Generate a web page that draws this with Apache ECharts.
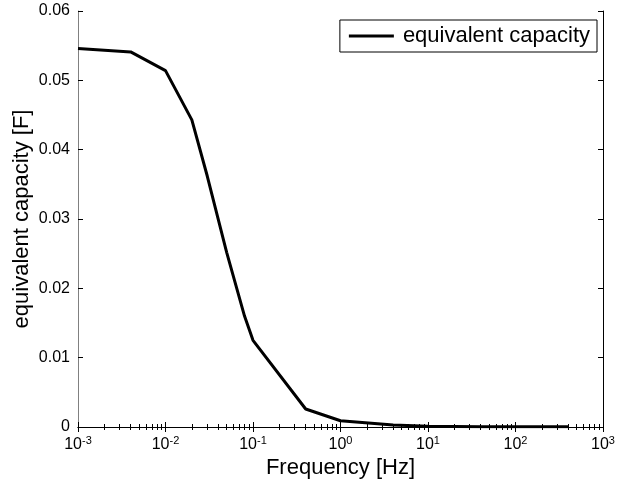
<!DOCTYPE html>
<html lang="en">
  <head>
    <meta charset="utf-8">
    <title>equivalent capacity</title>
    <script src="https://cdn.jsdelivr.net/npm/echarts@6/dist/echarts.min.js"></script>
  </head>
  <body style="margin:0;background:#fff">
    <div id="main" style="width:629px;height:484px;"></div>

    <script>
    // frequency [Hz] and equivalent capacity [F]
    var freq = [0.001, 0.004, 0.01, 0.02, 0.03, 0.05, 0.08, 0.1, 0.4, 1, 4, 10, 40, 100, 400];
    var capacity = [0.0546, 0.0541, 0.0514, 0.0443, 0.0362, 0.0252, 0.016, 0.0125, 0.0026, 0.0009, 0.0003, 0.0001, 0.00005, 0.00003, 0.00002];

    var xMin = 0.001, xMax = 1000;
    var yMin = 0, yMax = 0.06, yStep = 0.01;

    var font = 'Liberation Sans, Arial, Helvetica, sans-serif';

    var myChart = echarts.init(document.getElementById('main'));

    var pts = freq.map((f, i) => [f, capacity[i]]);

    var logAxis = {
      type: 'log',
      logBase: 10,
      min: xMin,
      max: xMax,
      axisLine: { lineStyle: { color: '#000', width: 1 } },
      axisTick: { inside: true, length: 5, lineStyle: { color: '#000' } },
      minorTick: { show: true, splitNumber: 9, length: 3, lineStyle: { color: '#000' } },
      splitLine: { show: false },
      minorSplitLine: { show: false }
    };

    var option = {
      animation: false,
      backgroundColor: '#fff',
      grid: { left: 78, right: 26, top: 11, bottom: 57, outerBoundsMode: 'none' },
      legend: {
        right: 32,
        top: 20,
        orient: 'horizontal',
        itemWidth: 45,
        itemHeight: 3,
        itemGap: 9,
        padding: [5, 7, 5, 9],
        borderColor: '#000',
        borderWidth: 1,
        backgroundColor: '#fff',
        icon: 'rect',
        textStyle: { fontFamily: font, fontSize: 22, color: '#000', padding: [0, 0, 0, 4] },
        data: ['equivalent capacity']
      },
      xAxis: [
        Object.assign({}, logAxis, {
          position: 'bottom',
          name: 'Frequency [Hz]',
          nameLocation: 'middle',
          nameGap: 30,
          nameMoveOverlap: false,
          nameTextStyle: { fontFamily: font, fontSize: 22, color: '#000' },
          axisLabel: {
            margin: 8,
            formatter: (v) => '{b|10}{s|' + Math.round(Math.log10(v)) + '}',
            rich: {
              b: { fontFamily: font, fontSize: 16, color: '#000' },
              s: { fontFamily: font, fontSize: 11, color: '#000', padding: [0, 0, 9, 0] }
            }
          }
        }),
        Object.assign({}, logAxis, {
          position: 'top',
          axisLabel: { show: false }
        })
      ],
      yAxis: [
        {
          type: 'value',
          position: 'left',
          min: yMin,
          max: yMax,
          interval: yStep,
          name: 'equivalent capacity [F]',
          nameLocation: 'middle',
          nameGap: 45,
          nameMoveOverlap: false,
          nameTextStyle: { fontFamily: font, fontSize: 22, color: '#000' },
          axisLine: { show: true, lineStyle: { color: '#808080', width: 1 } },
          axisTick: { show: true, inside: true, length: 5, lineStyle: { color: '#000' } },
          axisLabel: { margin: 8, fontFamily: font, fontSize: 16, color: '#000' },
          splitLine: { show: false }
        },
        {
          type: 'value',
          position: 'right',
          min: yMin,
          max: yMax,
          interval: yStep,
          axisLine: { show: true, lineStyle: { color: '#000', width: 1 } },
          axisTick: { show: true, inside: true, length: 5, lineStyle: { color: '#000' } },
          axisLabel: { show: false },
          splitLine: { show: false }
        }
      ],
      series: [{
        name: 'equivalent capacity',
        type: 'line',
        data: pts,
        showSymbol: false,
        symbol: 'none',
        lineStyle: { color: '#000', width: 3 },
        itemStyle: { color: '#000' }
      }]
    };

    myChart.setOption(option);
    </script>
  </body>
</html>
